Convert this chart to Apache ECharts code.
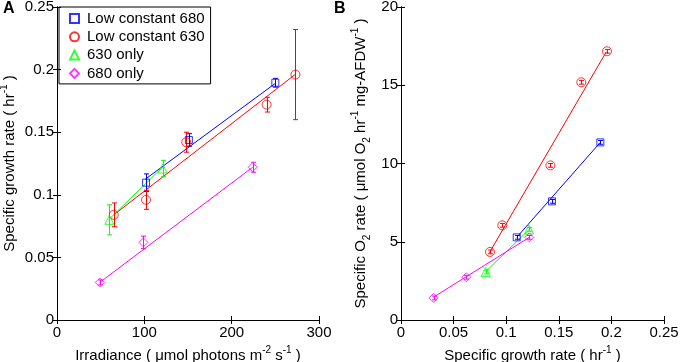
<!DOCTYPE html>
<html>
<head>
<meta charset="utf-8">
<script src="https://cdn.jsdelivr.net/npm/echarts@6/dist/echarts.min.js"></script>
<style>
  html, body { margin: 0; padding: 0; background: #fff; }
  #chart { width: 680px; height: 362px; }
</style>
</head>
<body>
<div id="chart"></div>
<script>
// Panel A: irradiance vs specific growth rate (hr^-1), with error bars
var legendNames = ['Low constant 680', 'Low constant 630', '630 only', '680 only'];
var colors = ['#0000ff', '#ff0000', '#00ff00', '#ff00ff'];
var symbols = ['rect', 'circle', 'triangle', 'diamond'];

var irrLC680 = [102, 151, 250];
var muLC680 = [0.1097, 0.1438, 0.1895];
var errLC680 = [0.007, 0.005, 0.0035];
var irrLC630 = [65, 102, 148, 240, 273];
var muLC630 = [0.084, 0.096, 0.142, 0.172, 0.196];
var errLC630 = [0.0095, 0.0076, 0.008, 0.0059, 0.036];
var irr630 = [60, 121];
var mu630 = [0.080, 0.121];
var err630 = [0.012, 0.0065];
var irr680 = [49, 99, 224];
var mu680 = [0.030, 0.062, 0.122];
var err680 = [0.002, 0.005, 0.004];

// fitted line end points, panel A
var fitAx = [[101, 250], [65, 273.5], [59, 121.5], [49, 224]];
var fitAy = [[0.1124, 0.189], [0.084, 0.1965], [0.080, 0.1225], [0.030, 0.122]];

// Panel B: specific growth rate vs specific O2 rate
var gLC680 = [0.110, 0.1435, 0.1895];
var o2LC680 = [5.28, 7.58, 11.35];
var gLC630 = [0.0846, 0.0963, 0.1420, 0.1714, 0.1958];
var o2LC630 = [4.35, 6.05, 9.88, 15.19, 17.17];
var g630 = [0.0805, 0.1217];
var o2630 = [3.07, 5.79];
var g680 = [0.031, 0.0621, 0.122];
var o2680 = [1.41, 2.73, 5.28];
var errB = [0.12, 0.12, 0.12, 0.12, 0.12];

// fitted line end points, panel B
var fitBx = [[0.110, 0.1892], [0.084, 0.1952], [0.0805, 0.1214], [0.0307, 0.122]];
var fitBy = [[5.28, 11.33], [4.3, 17.14], [3.09, 5.75], [1.45, 5.28]];

var xTicksA = [0, 300, 100];
var yTicksA = [0, 0.25, 0.05];
var xTicksB = [0, 0.25, 0.05];
var yTicksB = [0, 20, 5];

var FONT = 'Liberation Sans, Arial, sans-serif';

function zip(a, b, c) {
  return a.map(function (v, i) { return c ? [v, b[i], c[i]] : [v, b[i]]; });
}

function renderErr(params, api) {
  var x = api.value(0), y = api.value(1), e = api.value(2);
  var lo = api.coord([x, y - e]);
  var hi = api.coord([x, y + e]);
  var cx = Math.round(lo[0]) + 0.5;
  var w = 2.5;
  var st = { stroke: api.visual('color'), lineWidth: 1 };
  return {
    type: 'group',
    children: [
      { type: 'line', shape: { x1: cx, y1: lo[1], x2: cx, y2: hi[1] }, style: st },
      { type: 'line', shape: { x1: cx - w, y1: lo[1], x2: cx + w, y2: lo[1] }, style: st },
      { type: 'line', shape: { x1: cx - w, y1: hi[1], x2: cx + w, y2: hi[1] }, style: st }
    ]
  };
}

function axisX(grid, range, pos, show, name) {
  return {
    type: 'value', gridIndex: grid, position: pos,
    min: range[0], max: range[1], interval: range[2],
    axisLine: { lineStyle: { color: '#000', width: 1 } },
    axisTick: { inside: true, length: 4, lineStyle: { color: '#000' } },
    splitLine: { show: false },
    axisLabel: { show: show, margin: 5, color: '#000', fontSize: 15, fontFamily: FONT },
    name: name || '', nameLocation: 'middle', nameGap: 20,
    nameTextStyle: {
      color: '#000', fontSize: 15, fontFamily: FONT, lineHeight: 22,
      rich: { sup: { fontSize: 10, lineHeight: 12, verticalAlign: 'top' } }
    }
  };
}

function axisY(grid, range, pos, show, name, gap) {
  return {
    type: 'value', gridIndex: grid, position: pos,
    min: range[0], max: range[1], interval: range[2],
    axisLine: { lineStyle: { color: '#000', width: 1 } },
    axisTick: { inside: true, length: 4, lineStyle: { color: '#000' } },
    splitLine: { show: false },
    axisLabel: { show: show, margin: 3, color: '#000', fontSize: 15, fontFamily: FONT },
    name: name || '', nameLocation: 'middle', nameGap: gap || 30,
    nameTextStyle: {
      color: '#000', fontSize: 15, fontFamily: FONT, lineHeight: 22,
      rich: {
        sup: { fontSize: 10, lineHeight: 12, verticalAlign: 'top' },
        sub: { fontSize: 10, lineHeight: 14, verticalAlign: 'bottom' }
      }
    }
  };
}

var groupsA = [
  [irrLC680, muLC680, errLC680],
  [irrLC630, muLC630, errLC630],
  [irr630, mu630, err630],
  [irr680, mu680, err680]
];
var groupsB = [
  [gLC680, o2LC680],
  [gLC630, o2LC630],
  [g630, o2630],
  [g680, o2680]
];

var series = [];
// markers first so the legend takes their symbols
groupsA.forEach(function (g, i) {
  series.push({
    name: legendNames[i], type: 'scatter', xAxisIndex: 0, yAxisIndex: 0,
    symbol: symbols[i], symbolSize: i === 0 ? 7 : 9, z: 5,
    itemStyle: { color: 'transparent', borderColor: colors[i], borderWidth: 1 },
    data: zip(g[0], g[1])
  });
});
groupsB.forEach(function (g, i) {
  series.push({
    name: legendNames[i], type: 'scatter', xAxisIndex: 2, yAxisIndex: 2,
    symbol: symbols[i], symbolSize: i === 0 ? 7 : 9, z: 5,
    itemStyle: { color: 'transparent', borderColor: colors[i], borderWidth: 1 },
    data: zip(g[0], g[1])
  });
});
groupsA.forEach(function (g, i) {
  series.push({
    name: 'errA' + i, type: 'custom', xAxisIndex: 0, yAxisIndex: 0,
    itemStyle: { color: colors[i] }, renderItem: renderErr, z: 4,
    data: zip(g[0], g[1], g[2])
  });
  series.push({
    name: 'fitA' + i, type: 'line', xAxisIndex: 0, yAxisIndex: 0,
    showSymbol: false, symbol: 'none', z: 3,
    lineStyle: { color: colors[i], width: 1 },
    data: zip(fitAx[i], fitAy[i])
  });
});
groupsB.forEach(function (g, i) {
  series.push({
    name: 'errB' + i, type: 'custom', xAxisIndex: 2, yAxisIndex: 2,
    itemStyle: { color: colors[i] }, renderItem: renderErr, z: 4,
    data: zip(g[0], g[1], errB)
  });
  series.push({
    name: 'fitB' + i, type: 'line', xAxisIndex: 2, yAxisIndex: 2,
    showSymbol: false, symbol: 'none', z: 3,
    lineStyle: { color: colors[i], width: 1 },
    data: zip(fitBx[i], fitBy[i])
  });
});

var chart = echarts.init(document.getElementById('chart'), null, { renderer: 'canvas' });
chart.setOption({
  animation: false,
  backgroundColor: '#fff',
  textStyle: { fontFamily: FONT },
  grid: [
    { left: 57, top: 7, width: 262, height: 313, outerBoundsMode: 'none', containLabel: false },
    { left: 401, top: 7, width: 263, height: 313, outerBoundsMode: 'none', containLabel: false }
  ],
  legend: {
    data: legendNames, orient: 'vertical', left: 59, top: 7,
    padding: [4, 6, 3, 10], itemGap: 3.3, itemWidth: 9, itemHeight: 9,
    borderColor: '#000', borderWidth: 1, borderRadius: 0,
    selectedMode: false,
    textStyle: { color: '#000', fontSize: 15, lineHeight: 15, fontFamily: FONT, padding: [0, 0, 0, 3] }
  },
  xAxis: [
    axisX(0, xTicksA, 'bottom', true, 'Irradiance ( μmol photons m{sup|-2} s{sup|-1} )'),
    axisX(0, xTicksA, 'top', false),
    axisX(1, xTicksB, 'bottom', true, 'Specific growth rate ( hr{sup|-1} )'),
    axisX(1, xTicksB, 'top', false)
  ],
  yAxis: [
    axisY(0, yTicksA, 'left', true, 'Specific growth rate ( hr{sup|-1} )', 32),
    axisY(0, yTicksA, 'right', false),
    axisY(1, yTicksB, 'left', true, 'Specific O{sub|2} rate ( μmol O{sub|2} hr{sup|-1} mg-AFDW{sup|-1} )', 29),
    axisY(1, yTicksB, 'right', false)
  ],
  graphic: [
    { type: 'text', left: 3, top: 1, style: { text: 'A', fontSize: 16, fontWeight: 'bold', fontFamily: FONT, fill: '#000' } },
    { type: 'text', left: 334, top: 1, style: { text: 'B', fontSize: 16, fontWeight: 'bold', fontFamily: FONT, fill: '#000' } }
  ],
  series: series
});
</script>
</body>
</html>
